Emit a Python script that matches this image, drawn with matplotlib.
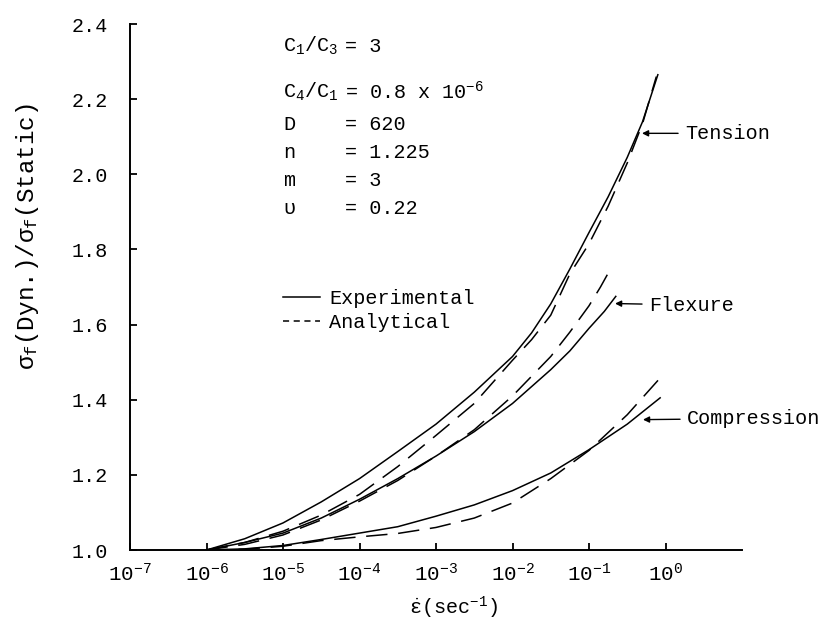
import numpy as np
import matplotlib
matplotlib.use("Agg")
import matplotlib.pyplot as plt
from matplotlib.lines import Line2D

plt.rcParams['font.family'] = ['Liberation Mono', 'DejaVu Sans']
plt.rcParams['mathtext.fontset'] = 'custom'
plt.rcParams['mathtext.rm'] = 'Liberation Mono'
plt.rcParams['mathtext.it'] = 'Liberation Mono'
plt.rcParams['mathtext.bf'] = 'Liberation Mono:bold'
plt.rcParams['mathtext.sf'] = 'Liberation Mono'

# ---- data (log10 of strain rate, strength ratio) ----
tension_exp_logx = [-6.0, -5.5, -5.0, -4.5, -4.0, -3.5, -3.0, -2.5, -2.0, -1.75, -1.5, -1.25, -1.0, -0.75, -0.5, -0.3, -0.1]
tension_exp_val = [1.0, 1.03, 1.072, 1.128, 1.19, 1.262, 1.335, 1.42, 1.515, 1.578, 1.655, 1.748, 1.845, 1.94, 2.045, 2.14, 2.265]

tension_ana_logx = [-6.0, -5.5, -5.0, -4.5, -4.0, -3.5, -3.0, -2.5, -2.0, -1.75, -1.5, -1.25, -1.0, -0.75, -0.5, -0.3, -0.12]
tension_ana_val = [1.0, 1.02, 1.05, 1.093, 1.148, 1.222, 1.305, 1.39, 1.505, 1.56, 1.625, 1.735, 1.815, 1.915, 2.03, 2.135, 2.26]

flexure_exp_logx = [-6.0, -5.5, -5.0, -4.5, -4.0, -3.5, -3.0, -2.5, -2.0, -1.5, -1.25, -1.0, -0.8, -0.65]
flexure_exp_val = [1.0, 1.02, 1.045, 1.085, 1.135, 1.19, 1.25, 1.315, 1.39, 1.48, 1.53, 1.59, 1.635, 1.675]

flexure_ana_logx = [-6.0, -5.5, -5.0, -4.5, -4.0, -3.5, -3.0, -2.5, -2.0, -1.5, -1.25, -1.0, -0.85, -0.7]
flexure_ana_val = [1.0, 1.015, 1.04, 1.08, 1.13, 1.185, 1.25, 1.32, 1.41, 1.515, 1.58, 1.65, 1.70, 1.755]

compression_exp_logx = [-6.0, -5.5, -5.0, -4.5, -4.0, -3.5, -3.0, -2.5, -2.0, -1.5, -1.0, -0.5, -0.07]
compression_exp_val = [1.0, 1.003, 1.012, 1.028, 1.045, 1.062, 1.09, 1.12, 1.158, 1.205, 1.267, 1.335, 1.405]

compression_ana_logx = [-6.0, -5.5, -5.0, -4.5, -4.0, -3.5, -3.0, -2.5, -2.0, -1.5, -1.0, -0.5, -0.03]
compression_ana_val = [1.0, 1.002, 1.01, 1.025, 1.035, 1.044, 1.06, 1.085, 1.125, 1.19, 1.265, 1.36, 1.467]

x_tick_exps = [-7, -6, -5, -4, -3, -2, -1, 0]
y_ticks = [1.0, 1.2, 1.4, 1.6, 1.8, 2.0, 2.2, 2.4]

param_names = [r'$\mathrm{C_1/C_3}$', r'$\mathrm{C_4/C_1}$', 'D', 'n', 'm', 'υ']
param_values = ['= 3', r'= 0.8 x 10$^{-6}$', '= 620', '= 1.225', '= 3', '= 0.22']

FS = 14.5

fig = plt.figure(figsize=(8.21, 6.28), dpi=100)
ax = fig.add_axes([130/821, 1-550/628, 612/821, 526/628])

lw = 1.1
dash = (14, 7)
ax.plot(10**np.array(tension_exp_logx), tension_exp_val, color='black', lw=lw)
ax.plot(10**np.array(tension_ana_logx), tension_ana_val, color='black', lw=lw, dashes=dash)
ax.plot(10**np.array(flexure_exp_logx), flexure_exp_val, color='black', lw=lw)
ax.plot(10**np.array(flexure_ana_logx), flexure_ana_val, color='black', lw=lw, dashes=dash)
ax.plot(10**np.array(compression_exp_logx), compression_exp_val, color='black', lw=lw)
ax.plot(10**np.array(compression_ana_logx), compression_ana_val, color='black', lw=lw, dashes=dash)

ax.set_xscale('log')
ax.set_xlim(1e-7, 1e1)
ax.set_ylim(1.0, 2.4)
ax.set_xticks([10.0**e for e in x_tick_exps])
ax.set_xticklabels([r'$10^{%d}$' % e for e in x_tick_exps], fontsize=15)
ax.xaxis.set_minor_locator(matplotlib.ticker.NullLocator())
ax.set_yticks(y_ticks)
ax.set_yticklabels(['%.1f' % v for v in y_ticks], fontsize=FS)
ax.tick_params(axis='y', direction='in', length=5, width=1.3, pad=16)
ax.tick_params(axis='x', direction='in', length=5, width=1.3, pad=9)
for s in ['top', 'right']:
    ax.spines[s].set_visible(False)
for s in ['left', 'bottom']:
    ax.spines[s].set_linewidth(1.4)

# parameter block
ys = [0.958, 0.871, 0.808, 0.755, 0.702, 0.650]
for name, val, yy in zip(param_names, param_values, ys):
    ax.text(0.25, yy, name, transform=ax.transAxes, fontsize=FS, va='center', ha='left')
    ax.text(0.351, yy, val, transform=ax.transAxes, fontsize=FS, va='center', ha='left')

# legend
handles = [Line2D([], [], color='black', lw=lw),
           Line2D([], [], color='black', lw=lw, dashes=(4, 3))]
ax.legend(handles, ['Experimental', 'Analytical'], loc='upper left',
          bbox_to_anchor=(0.25, 0.497), frameon=False, fontsize=FS,
          handlelength=1.85, handletextpad=0.45, labelspacing=0.25, borderpad=0, borderaxespad=0)

# curve labels
arrow = dict(arrowstyle='-|>', color='black', lw=1.0, mutation_scale=9, shrinkA=3, shrinkB=0)
ax.annotate('Tension', xy=(0.493, 2.109), xytext=(1.80, 2.109), fontsize=FS,
            va='center', ha='left', arrowprops=arrow)
ax.annotate('Flexure', xy=(0.219, 1.656), xytext=(0.608, 1.652), fontsize=FS,
            va='center', ha='left', arrowprops=arrow)
ax.annotate('Compression', xy=(0.508, 1.347), xytext=(1.91, 1.35), fontsize=FS,
            va='center', ha='left', arrowprops=arrow)

fig.text(28/821, 1-237/628, r'$\sigma_f$(Dyn.)/$\sigma_f$(Static)', rotation=90,
         fontsize=17.5, ha='center', va='center')
fig.text(453/821, 1-608/628, r'$\dot{\varepsilon}$(sec$^{-1}$)', fontsize=FS,
         ha='center', va='center')

fig.savefig('out.png', dpi=100, facecolor='white')
